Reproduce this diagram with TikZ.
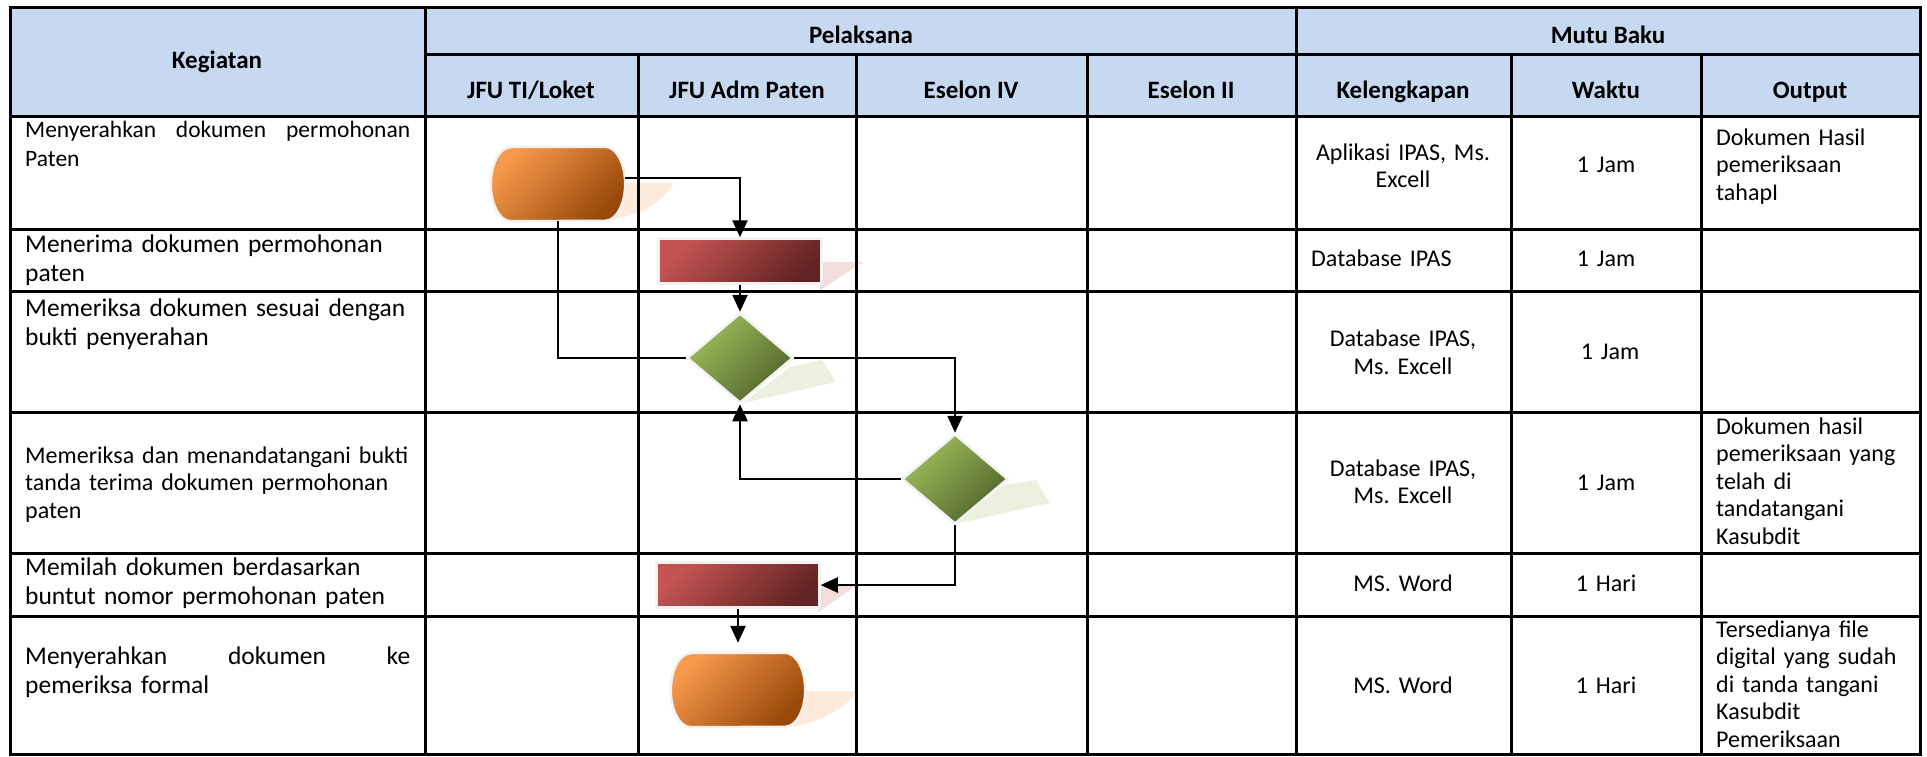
\documentclass[tikz,border=0pt]{standalone}
\usepackage{fontspec}
\setmainfont{Carlito}
\usepackage{tikz}
\usetikzlibrary{arrows.meta, shapes.geometric}
\definecolor{kepala}{RGB}{198,217,241}
\definecolor{jinggaA}{RGB}{247,153,76}
\definecolor{jinggaB}{RGB}{152,72,8}
\definecolor{merahA}{RGB}{196,84,82}
\definecolor{merahB}{RGB}{98,36,35}
\definecolor{hijauA}{RGB}{158,190,92}
\definecolor{hijauB}{RGB}{80,100,42}
\definecolor{bayangJingga}{RGB}{253,234,218}
\definecolor{bayangMerah}{RGB}{242,221,220}
\definecolor{bayangHijau}{RGB}{235,241,222}
\tikzset{
>={Triangle[length=17pt,width=15pt]},
  terminal/.style={
    rectangle,
    minimum width=134pt,
    minimum height=74pt,
    inner sep=0pt,
    append after command={\pgfextra{
      \shade[draw=black!5, line width=2.5pt,
             top color=jinggaA, bottom color=jinggaB, shading angle=45]
        ([xshift=20pt]\tikzlastnode.north west) -- ([xshift=-20pt]\tikzlastnode.north east)
        arc[start angle=90, end angle=-90, x radius=20pt, y radius=37pt]
        -- ([xshift=20pt]\tikzlastnode.south west)
        arc[start angle=270, end angle=90, x radius=20pt, y radius=37pt] -- cycle;}}},
  proses/.style={
    rectangle,
    top color=merahA, bottom color=merahB, shading angle=45,
    draw=black!5, line width=2.5pt,
    minimum width=163pt,
    minimum height=45pt,
    inner sep=0pt},
  keputusan/.style={
    diamond,
    top color=hijauA, bottom color=hijauB, shading angle=45,
    draw=black!5, line width=2.5pt,
    minimum width=106pt,
    minimum height=90pt,
    inner sep=0pt},
  line/.style={draw, line width=2.5pt, ->},
  garis/.style={draw, line width=2.5pt},
  tabel/.style={line width=3pt},
  judul/.style={anchor=base, inner sep=0pt, font=\fontsize{25}{28}\selectfont\bfseries},
  kegiatan/.style={anchor=base west, inner sep=0pt, text width=385pt, align=left},
  isi/.style={anchor=base, inner sep=0pt, text width=190pt, align=center,
    font=\fontsize{24}{27.5}\selectfont},
  keluaran/.style={isi, anchor=base west, align=left},
  hurufA/.style={font=\fontsize{23.5}{29}\selectfont},
  hurufB/.style={font=\fontsize{25.5}{29.5}\selectfont, text width=400pt},
  hurufC/.style={font=\fontsize{24}{27.5}\selectfont, text width=400pt},
}

\begin{document}
\frenchspacing
\begin{tikzpicture}[x=1pt, y=-1pt]
     \useasboundingbox (0,0) rectangle (1927,756);
     \fill[kepala] (10,7) rectangle (1920,116);
     % bayangan
     \fill[bayangJingga] (620,183) -- (674,183) .. controls (662,204) and (636,218) .. (600,221) -- cycle;
     \fill[bayangMerah] (818,262) -- (863,262) -- (820,290) -- cycle;
     \fill[bayangHijau] (790,367) -- (822,360) -- (836,382) -- (743,403) -- cycle;
     \fill[bayangHijau] (1004,485) -- (1036,480) -- (1050,503) -- (955,524) -- cycle;
     \fill[bayangMerah] (816,585) -- (857,585) -- (818,612) -- cycle;
     \fill[bayangJingga] (800,691) -- (857,691) .. controls (846,708) and (822,722) .. (790,727) -- cycle;
     % tabel
     \draw[tabel] (10,7) rectangle (1920,754);
     \draw[tabel] (425,54) -- (1920,54);
     \draw[tabel] (10,116) -- (1920,116);
     \draw[tabel] (10,229) -- (1920,229);
     \draw[tabel] (10,291) -- (1920,291);
     \draw[tabel] (10,412) -- (1920,412);
     \draw[tabel] (10,553) -- (1920,553);
     \draw[tabel] (10,616) -- (1920,616);
     \draw[tabel] (425,7) -- (425,754);
     \draw[tabel] (1296,7) -- (1296,754);
     \draw[tabel] (638,54) -- (638,754);
     \draw[tabel] (856,54) -- (856,754);
     \draw[tabel] (1087,54) -- (1087,754);
     \draw[tabel] (1511,54) -- (1511,754);
     \draw[tabel] (1701,54) -- (1701,754);

     \node[judul] (Kegiatan)    at (217,68)  {Kegiatan};
     \node[judul] (Pelaksana)   at (861,43)  {Pelaksana};
     \node[judul] (MutuBaku)    at (1608,43) {Mutu Baku};
     \node[judul] (JFUTI)       at (531,98)  {JFU TI/Loket};
     \node[judul] (JFUAdm)      at (747,98)  {JFU Adm Paten};
     \node[judul] (EselonIV)    at (971,98)  {Eselon IV};
     \node[judul] (EselonII)    at (1191,98) {Eselon II};
     \node[judul] (Kelengkapan) at (1403,98) {Kelengkapan};
     \node[judul] (Waktu)       at (1606,98) {Waktu};
     \node[judul] (Output)      at (1810,98) {Output};

     \node[kegiatan, hurufA] (KegSerah)       at (25,137) {Menyerahkan\hfill dokumen\hfill permohonan\\Paten};
     \node[kegiatan, hurufB] (KegTerima)      at (25,252) {Menerima dokumen permohonan\\paten};
     \node[kegiatan, hurufB] (KegPeriksa)     at (25,316) {Memeriksa dokumen sesuai dengan\\bukti penyerahan};
     \node[kegiatan, hurufC] (KegTandatangan) at (25,463) {Memeriksa dan menandatangani bukti\\tanda terima dokumen permohonan\\paten};
     \node[kegiatan, hurufB] (KegPilah)       at (25,575) {Memilah dokumen berdasarkan\\buntut nomor permohonan paten};
     \node[kegiatan, font=\fontsize{25.5}{29}\selectfont] (KegSerahFormal) at (25,664) {Menyerahkan\hfill dokumen\hfill ke\\pemeriksa formal};

     \node[isi] (AlatSerah)       at (1403,160)   {Aplikasi IPAS, Ms.\\Excell};
     \node[keluaran] (AlatTerima) at (1311,266)   {Database IPAS};
     \node[isi] (AlatPeriksa)     at (1403,346.5) {Database IPAS,\\Ms. Excell};
     \node[isi] (AlatTandatangan) at (1403,476)   {Database IPAS,\\Ms. Excell};
     \node[isi] (AlatPilah)       at (1403,591)   {MS. Word};
     \node[isi] (AlatSerahFormal) at (1403,693.5) {MS. Word};

     \node[isi] (WaktuSerah)       at (1606,172)   {1 Jam};
     \node[isi] (WaktuTerima)      at (1606,266)   {1 Jam};
     \node[isi] (WaktuPeriksa)     at (1610,359.5) {1 Jam};
     \node[isi] (WaktuTandatangan) at (1606,490)   {1 Jam};
     \node[isi] (WaktuPilah)       at (1606,591)   {1 Hari};
     \node[isi] (WaktuSerahFormal) at (1606,693.5) {1 Hari};

     \node[keluaran] (HasilSerah)       at (1716,145) {Dokumen Hasil\\pemeriksaan\\tahapI};
     \node[keluaran] (HasilTandatangan) at (1716,434) {Dokumen hasil\\pemeriksaan yang\\telah di\\tandatangani\\Kasubdit};
     \node[keluaran] (HasilSerahFormal) at (1716,637) {Tersedianya file\\digital yang sudah\\di tanda tangani\\Kasubdit\\Pemeriksaan};

     \node[terminal]  (Serah)       at (558,184) {};
     \node[proses]    (Terima)      at (740,261) {};
     \node[keputusan] (Periksa)     at (740,358) {};
     \node[keputusan] (Tandatangan) at (955,479) {};
     \node[proses]    (Pilah)       at (738,585) {};
     \node[terminal]  (SerahFormal) at (738,690) {};

     \draw[line] ([yshift=6pt]Serah.east) -| (Terima.north);
     \draw[line] (Terima.south) -- (Periksa.north);
     \draw[garis] (Serah.south) |- (Periksa.west);
     \draw[line] (Periksa.east) -| (Tandatangan.north);
     \draw[line] (Tandatangan.west) -| (Periksa.south);
     \draw[line] (Tandatangan.south) |- (Pilah.east);
     \draw[line, shorten >=10pt] (Pilah.south) -- (SerahFormal.north);
\end{tikzpicture}
\end{document}
